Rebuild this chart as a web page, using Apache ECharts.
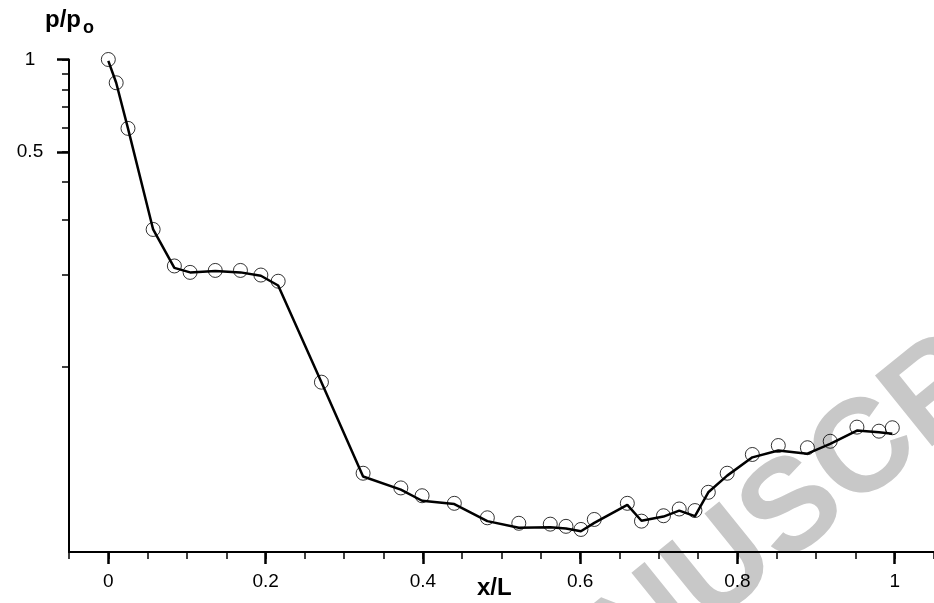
<!DOCTYPE html>
<html>
<head>
<meta charset="utf-8">
<script src="https://cdn.jsdelivr.net/npm/echarts@6/dist/echarts.min.js"></script>
<style>
html,body{margin:0;padding:0;background:#fff;}
#chart{width:934px;height:603px;}
</style>
</head>
<body>
<div id="chart"></div>
<script>
// x/L positions of the measured points
var xPos = [0.0, 0.010, 0.025, 0.057, 0.084, 0.104, 0.136, 0.168, 0.194, 0.216,
            0.271, 0.324, 0.372, 0.399, 0.440, 0.482, 0.522, 0.562, 0.582, 0.601,
            0.618, 0.660, 0.678, 0.706, 0.726, 0.746, 0.763, 0.787, 0.819, 0.852,
            0.889, 0.918, 0.952, 0.980, 0.997];
// measured p/po (circles)
var pMeasured = [1.0, 0.840, 0.597, 0.280, 0.213, 0.203, 0.206, 0.206, 0.199, 0.190,
                 0.0892, 0.0451, 0.0404, 0.0381, 0.0360, 0.0323, 0.0310, 0.0308, 0.0303, 0.0296,
                 0.0319, 0.0360, 0.0315, 0.0328, 0.0345, 0.0341, 0.0391, 0.0451, 0.0519, 0.0555,
                 0.0546, 0.0573, 0.0637, 0.0618, 0.0634];
// computed p/po (solid line)
var pLine = [0.99, 0.840, 0.597, 0.280, 0.210, 0.203, 0.205, 0.203, 0.198, 0.184,
             0.0892, 0.0440, 0.0399, 0.0367, 0.0358, 0.0315, 0.0300, 0.0301, 0.0298, 0.0292,
             0.0311, 0.0356, 0.0316, 0.0326, 0.0341, 0.0327, 0.0391, 0.0443, 0.0508, 0.0535,
             0.0522, 0.0562, 0.0621, 0.0613, 0.0606];
// axis ticks
var xMajorTicks = [0, 0.2, 0.4, 0.6, 0.8, 1];
var yMinorTicks = [0.1, 0.2, 0.3, 0.4, 0.5, 0.6, 0.7, 0.8, 0.9, 1];
var yMajorTicks = [0.5, 1];

var lineData = xPos.map(function (x, i) { return [x, pLine[i]]; });
var circleData = xPos.map(function (x, i) { return [x, pMeasured[i]]; });

var FONT = '"Liberation Sans", Arial, Helvetica, sans-serif';
function fmt(v) { return String(Math.round(v * 100) / 100); }

var chart = echarts.init(document.getElementById('chart'), null, {renderer: 'canvas'});
chart.setOption({
  animation: false,
  backgroundColor: '#ffffff',
  grid: {left: 69, top: 59.5, right: -3, bottom: 51, containLabel: false},
  xAxis: [{
    type: 'value', min: -0.05, max: 1.05, interval: 0.05, position: 'bottom',
    axisLine: {show: true, onZero: false, lineStyle: {color: '#000', width: 2}},
    axisTick: {show: true, length: 7, lineStyle: {color: '#000', width: 1.5}},
    axisLabel: {show: false},
    splitLine: {show: false}
  }, {
    type: 'value', min: -0.05, max: 1.05, position: 'bottom',
    axisLine: {show: false, onZero: false},
    axisTick: {show: true, length: 12, customValues: xMajorTicks, lineStyle: {color: '#000', width: 2.5}},
    axisLabel: {show: true, customValues: xMajorTicks, margin: 20, color: '#000',
      fontFamily: FONT, fontSize: 19, formatter: fmt},
    splitLine: {show: false}
  }],
  yAxis: [{
    type: 'log', logBase: 10, min: 0.025, max: 1, position: 'left',
    axisLine: {show: true, onZero: false, lineStyle: {color: '#000', width: 2}},
    axisTick: {show: true, length: 7, customValues: yMinorTicks, lineStyle: {color: '#000', width: 1.5}},
    axisLabel: {show: false},
    splitLine: {show: false}
  }, {
    type: 'log', logBase: 10, min: 0.025, max: 1, position: 'left',
    axisLine: {show: false, onZero: false},
    axisTick: {show: true, length: 12, customValues: yMajorTicks, lineStyle: {color: '#000', width: 2.5}},
    axisLabel: {show: true, customValues: yMajorTicks, margin: 39, align: 'center', color: '#000',
      fontFamily: FONT, fontSize: 19, formatter: fmt},
    splitLine: {show: false}
  }],
  graphic: [
    {type: 'text', z: -10, silent: true, x: 794, y: 511, rotation: 0.68,
     style: {text: 'MANUSCRIPT', font: 'bold 132px ' + FONT, fill: '#c8c8c8',
       align: 'center', verticalAlign: 'middle', textAlign: 'center', textVerticalAlign: 'middle'}},
    {type: 'text', x: 45, y: 20.6,
     style: {text: 'p/p', font: 'bold 24px ' + FONT, fill: '#000',
       align: 'left', verticalAlign: 'middle', textAlign: 'left', textVerticalAlign: 'middle'}},
    {type: 'text', x: 83, y: 28,
     style: {text: 'o', font: 'bold 18px ' + FONT, fill: '#000',
       align: 'left', verticalAlign: 'middle', textAlign: 'left', textVerticalAlign: 'middle'}},
    {type: 'text', x: 477, y: 588,
     style: {text: 'x/L', font: 'bold 24px ' + FONT, fill: '#000',
       align: 'left', verticalAlign: 'middle', textAlign: 'left', textVerticalAlign: 'middle'}}
  ],
  series: [{
    type: 'line', xAxisIndex: 0, yAxisIndex: 0, data: lineData,
    showSymbol: false, symbol: 'none', smooth: false, clip: false,
    lineStyle: {color: '#000', width: 2.5}, z: 3
  }, {
    type: 'scatter', xAxisIndex: 0, yAxisIndex: 0, data: circleData,
    symbol: 'circle', symbolSize: 14, clip: false,
    itemStyle: {color: 'rgba(0,0,0,0)', borderColor: '#000', borderWidth: 1}, z: 4
  }]
});
</script>
</body>
</html>
